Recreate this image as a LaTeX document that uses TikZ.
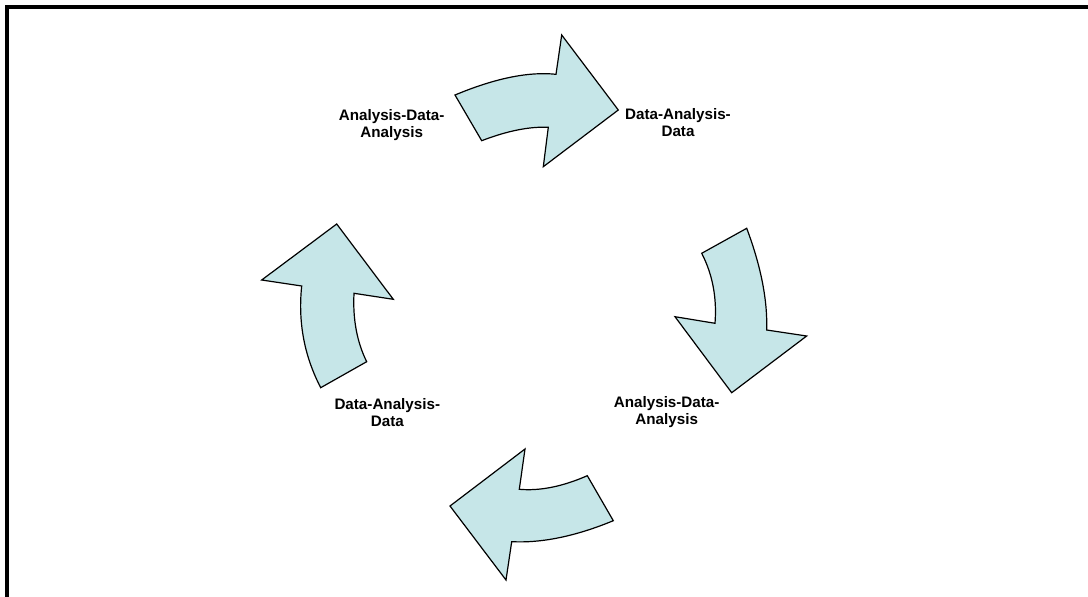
\documentclass[tikz,border=0pt]{standalone}
\usepackage{fontspec}
\setmainfont{Liberation Sans}
\usepackage{xcolor}
\usepackage{tikz}
\definecolor{arrowblue}{RGB}{198,230,232}

\begin{document}
\begin{tikzpicture}[x=1pt,y=-1pt,
	cyclearrow/.style={draw=black,fill=arrowblue,line width=1.2pt,line join=miter},
	steplabel/.style={inner sep=0pt,align=center,font=\bfseries\fontsize{15.2}{17}\selectfont}]
	\useasboundingbox (0,0) rectangle (1088,597);
	% frame
	\draw[line width=4pt] (1100,7) -- (7,7) -- (7,610);
	% top arrow
	\draw[cyclearrow] (455,95) .. controls (495,78.3) and (528.7,71.4) .. (556,74.3) -- (561.7,35) -- (618.3,110)
		-- (543.3,166.7) -- (548.3,127.3) .. controls (529.4,126.4) and (507.2,130.9) .. (481.7,140.7) -- cycle;
	% right arrow
	\draw[cyclearrow] (746.7,228.3) .. controls (760.9,266.1) and (767.6,300) .. (766.7,330) -- (806.7,336) -- (731.7,392.7)
		-- (675,316.7) -- (715,323.3) .. controls (717,297.8) and (712.6,274.4) .. (701.7,253.3) -- cycle;
	% bottom arrow
	\draw[cyclearrow] (613.3,520.7) .. controls (575.8,536.2) and (541.9,543.2) .. (511.7,541.7) -- (506,580) -- (450,506)
		-- (525,449) -- (519.3,489.3) .. controls (539.8,491.1) and (562.4,486.6) .. (587.3,475.7) -- cycle;
	% left arrow
	\draw[cyclearrow] (320.7,387.7) .. controls (304.2,355.9) and (297.9,322) .. (301.7,286) -- (261.7,280) -- (336.7,224)
		-- (393.3,299.3) -- (354,293.3) .. controls (352.7,319.1) and (356.9,341.9) .. (366.7,361.7) -- cycle;
	% labels
	\node[steplabel] (topleft) at (391.7,125) {Analysis-Data-\\Analysis};
	\node[steplabel] (topright) at (678,122.5) {Data-Analysis-\\Data};
	\node[steplabel] (bottomright) at (666.7,412.5) {Analysis-Data-\\Analysis};
	\node[steplabel] (bottomleft) at (387.3,412.5) {Data-Analysis-\\Data};
\end{tikzpicture}
\end{document}
